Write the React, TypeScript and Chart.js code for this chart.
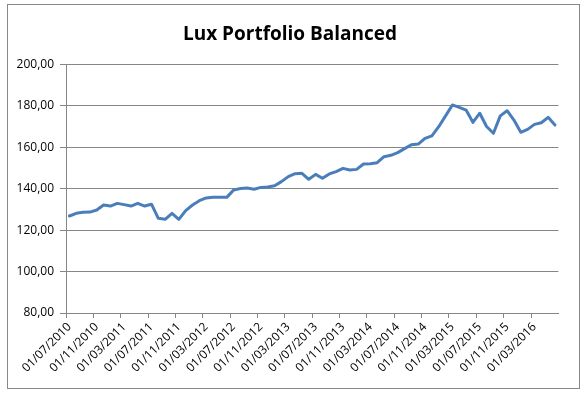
import React, { useEffect, useRef } from "react";
import { Chart, registerables } from "chart.js";

Chart.register(...registerables);

const titleText = "Lux Portfolio Balanced";

const categories = [
  "01/07/2010", "01/08/2010", "01/09/2010", "01/10/2010", "01/11/2010", "01/12/2010",
  "01/01/2011", "01/02/2011", "01/03/2011", "01/04/2011", "01/05/2011", "01/06/2011",
  "01/07/2011", "01/08/2011", "01/09/2011", "01/10/2011", "01/11/2011", "01/12/2011",
  "01/01/2012", "01/02/2012", "01/03/2012", "01/04/2012", "01/05/2012", "01/06/2012",
  "01/07/2012", "01/08/2012", "01/09/2012", "01/10/2012", "01/11/2012", "01/12/2012",
  "01/01/2013", "01/02/2013", "01/03/2013", "01/04/2013", "01/05/2013", "01/06/2013",
  "01/07/2013", "01/08/2013", "01/09/2013", "01/10/2013", "01/11/2013", "01/12/2013",
  "01/01/2014", "01/02/2014", "01/03/2014", "01/04/2014", "01/05/2014", "01/06/2014",
  "01/07/2014", "01/08/2014", "01/09/2014", "01/10/2014", "01/11/2014", "01/12/2014",
  "01/01/2015", "01/02/2015", "01/03/2015", "01/04/2015", "01/05/2015", "01/06/2015",
  "01/07/2015", "01/08/2015", "01/09/2015", "01/10/2015", "01/11/2015", "01/12/2015",
  "01/01/2016", "01/02/2016", "01/03/2016", "01/04/2016", "01/05/2016", "01/06/2016",
];

const values = [
  126.8, 128.1, 128.6, 128.7, 129.7, 132.1, 131.6, 132.9, 132.3, 131.6,
  132.9, 131.6, 132.5, 125.7, 125.2, 128.1, 125.2, 129.4, 132.1, 134.2,
  135.5, 135.8, 135.8, 135.8, 139.3, 140.1, 140.3, 139.7, 140.6, 140.8,
  141.4, 143.4, 145.8, 147.2, 147.4, 144.5, 146.9, 145.0, 147.1, 148.2,
  149.8, 149.0, 149.3, 151.9, 152.0, 152.5, 155.4, 156.1, 157.4, 159.3,
  161.2, 161.5, 164.3, 165.5, 169.9, 175.1, 180.4, 179.2, 177.9, 172.0,
  176.4, 170.0, 166.7, 175.1, 177.6, 173.1, 167.2, 168.6, 171.0, 171.8,
  174.4, 170.7,
];

const yMin = 80;
const yMax = 200;
const yStep = 20;
const labelEvery = 4;

const FONT = "'Open Sans', 'Liberation Sans', sans-serif";
const GRID = "#868686";

const framePlugin = {
  id: "frame",
  beforeDraw(chart: any) {
    const ctx = chart.ctx;
    ctx.save();
    ctx.fillStyle = "#ffffff";
    ctx.fillRect(0, 0, chart.width, chart.height);
    ctx.strokeStyle = "#888888";
    ctx.lineWidth = 1;
    ctx.strokeRect(7.5, 4.5, 572, 384);
    ctx.fillStyle = "#000000";
    ctx.font = `bold 19px ${FONT}`;
    ctx.textAlign = "center";
    ctx.textBaseline = "middle";
    ctx.fillText(titleText, 290, 35);
    ctx.restore();
  },
};

export default function App() {
  const ref = useRef<HTMLCanvasElement>(null);

  useEffect(() => {
    if (!ref.current) return;
    const chart = new Chart(ref.current, {
      type: "line",
      data: {
        labels: categories,
        datasets: [
          {
            data: values,
            borderColor: "#4A7EBB",
            borderWidth: 3,
            pointRadius: 0,
            tension: 0,
            borderJoinStyle: "round",
            borderCapStyle: "round",
            fill: false,
          },
        ],
      },
      options: {
        animation: false,
        responsive: false,
        devicePixelRatio: 1,
        layout: { padding: { left: 7, right: 26.6, top: 64.3, bottom: 0 } },
        plugins: {
          legend: { display: false },
          title: { display: false },
          tooltip: { enabled: false },
        },
        scales: {
          x: {
            type: "category",
            offset: true,
            grid: {
              offset: true,
              drawOnChartArea: false,
              drawTicks: true,
              tickLength: 5,
              color: (c: any) => (c.index % labelEvery === 0 ? GRID : "rgba(0,0,0,0)"),
            },
            border: { display: true, color: GRID, width: 1 },
            ticks: {
              autoSkip: false,
              minRotation: 45,
              maxRotation: 45,
              padding: 2,
              color: "#000000",
              font: { family: FONT, size: 12 },
              callback: (_v: any, i: number) => (i % labelEvery === 0 ? categories[i] : ""),
            },
            afterFit: (s: any) => {
              s.height = 84;
            },
          },
          y: {
            min: yMin,
            max: yMax,
            grid: {
              color: GRID,
              lineWidth: 1,
              drawTicks: true,
              tickLength: 6,
            },
            border: { display: true, color: GRID, width: 1 },
            ticks: {
              stepSize: yStep,
              padding: 6,
              color: "#000000",
              font: { family: FONT, size: 12 },
              callback: (v: any) => Number(v).toFixed(2).replace(".", ","),
            },
            afterFit: (s: any) => {
              s.width = 59;
            },
          },
        },
      },
      plugins: [framePlugin],
    });
    return () => chart.destroy();
  }, []);

  return (
    <div style={{ position: "absolute", left: 0, top: 0, width: 585, height: 397 }}>
      <canvas ref={ref} width={585} height={397} style={{ width: 585, height: 397 }} />
    </div>
  );
}
